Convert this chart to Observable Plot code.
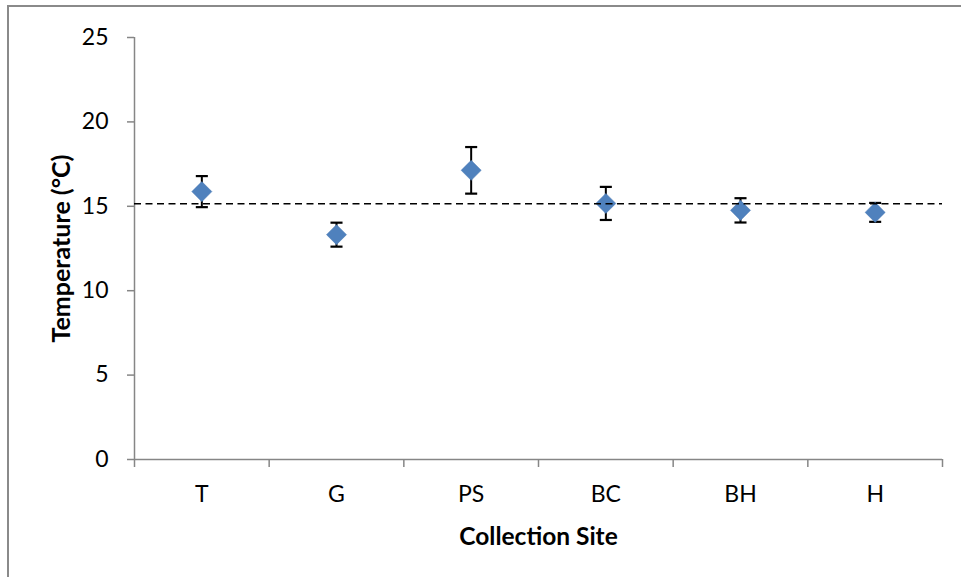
<!DOCTYPE html>
<html>
<head>
<meta charset="utf-8">
<script src="https://cdn.jsdelivr.net/npm/d3@7"></script>
<script src="https://cdn.jsdelivr.net/npm/@observablehq/plot@0.6"></script>
<style>
  html, body { margin: 0; padding: 0; background: #fff; }
  #wrap { position: relative; width: 961px; height: 577px; overflow: hidden; }
  #frame { position: absolute; left: 7px; top: 5px; width: 2000px; height: 2000px;
           border-left: 2px solid #8a8a8a; border-top: 2px solid #8a8a8a; }
  #chart { position: absolute; left: 0; top: 0; }
  g[aria-label="y-axis label"] text { font-weight: bold; font-size: 25px; }
  g[aria-label="x-axis label"] text { font-weight: bold; font-size: 24.5px; }
</style>
</head>
<body>
<div id="wrap"><div id="frame"></div><div id="chart"></div></div>
<script>
// Data
const sites = ["T", "G", "PS", "BC", "BH", "H"];
const means = [15.87, 13.32, 17.13, 15.17, 14.76, 14.64];
const errors = [0.92, 0.71, 1.38, 0.98, 0.72, 0.56];
const overallMean = 15.15;
const yTicks = [0, 5, 10, 15, 20, 25];
const yLabel = "Temperature (°C)";
const xLabel = "Collection Site";

const data = sites.map((s, i) => ({ site: s, i, mean: means[i], err: errors[i] }));
const xPos = d => d.i + 0.5;

const capSymbol = {
  draw(ctx, size) {
    const w = Math.sqrt(size);
    ctx.moveTo(-w / 2, 0);
    ctx.lineTo(w / 2, 0);
  }
};

const axisGray = "#868686";

const chart = Plot.plot({
  width: 961,
  height: 577,
  marginLeft: 134,
  marginRight: 19,
  marginTop: 37,
  marginBottom: 118,
  x: { domain: [0, sites.length] },
  y: { domain: [0, 25] },
  style: { fontFamily: "Lato, 'Open Sans', sans-serif", color: "black", background: "transparent" },
  marks: [
    Plot.axisY({
      ticks: yTicks, tickSize: 7, tickPadding: 19, stroke: axisGray, strokeWidth: 1.5,
      fontSize: 23, fill: "black",
      label: yLabel, labelAnchor: "center", labelOffset: 82, labelArrow: "none"
    }),
    Plot.axisX({
      ticks: d3.range(0, sites.length + 1), tickFormat: () => "", tickSize: 8,
      stroke: axisGray, strokeWidth: 1.5, label: null
    }),
    Plot.axisX({
      ticks: data.map(xPos), tickFormat: v => sites[Math.floor(v)], tickSize: 0, tickPadding: 26,
      fontSize: 23, fill: "black",
      label: xLabel, labelAnchor: "center", labelOffset: 85, labelArrow: "none"
    }),
    Plot.ruleX([0], { stroke: axisGray, strokeWidth: 1.5 }),
    Plot.ruleY([0], { stroke: axisGray, strokeWidth: 1.5 }),
    Plot.ruleX(data, { x: xPos, y1: d => d.mean - d.err, y2: d => d.mean + d.err, stroke: "black", strokeWidth: 2 }),
    Plot.dot(data, { x: xPos, y: d => d.mean + d.err, symbol: capSymbol, r: 6.8, fill: "none", stroke: "black", strokeWidth: 2.2 }),
    Plot.dot(data, { x: xPos, y: d => d.mean - d.err, symbol: capSymbol, r: 6.8, fill: "none", stroke: "black", strokeWidth: 2.2 }),
    Plot.dot(data, { x: xPos, y: "mean", symbol: "square", r: 8, rotate: 45, fill: "#4F81BD", stroke: "#4a7ab5", strokeWidth: 0.5 }),
    Plot.ruleY([overallMean], { stroke: "black", strokeWidth: 1.6, strokeDasharray: "7,4.5" })
  ]
});
document.getElementById("chart").appendChild(chart);
</script>
</body>
</html>
